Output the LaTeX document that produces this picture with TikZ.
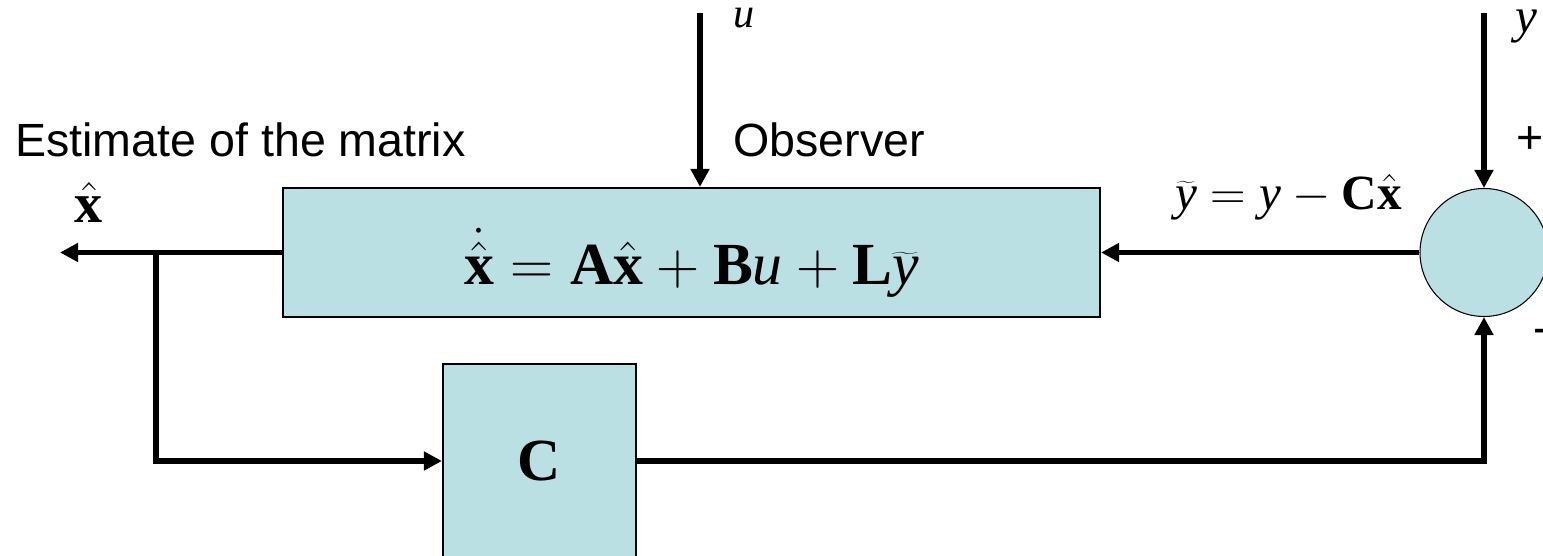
\RequirePackage{fix-cm}
\documentclass[tikz,border=0pt]{standalone}
\usepackage{fontspec}
\setmainfont{Liberation Sans}
\newfontfamily\tms{Liberation Serif}
\usetikzlibrary{arrows.meta}
\definecolor{obsfill}{RGB}{187,224,227}
% bold vectors / matrices and italic scalars in Times
\newcommand{\bfx}{\mbox{\tms\bfseries x}}
\newcommand{\bfA}{\mbox{\tms\bfseries A}}
\newcommand{\bfB}{\mbox{\tms\bfseries B}}
\newcommand{\bfC}{\mbox{\tms\bfseries C}}
\newcommand{\bfL}{\mbox{\tms\bfseries L}}
\newcommand{\itu}{\mbox{\tms\itshape u}}
\newcommand{\ity}{\mbox{\tms\itshape y}}

\begin{document}
\begin{tikzpicture}[>={Triangle[length=0.36cm,width=0.36cm]},
  sig/.style={line width=3.4pt},
  blockbox/.style={draw,line width=1.2pt,fill=obsfill,inner sep=0pt},
  sumcirc/.style={draw,circle,line width=0.6pt,fill=obsfill,minimum size=2.56cm,inner sep=0pt},
  txt/.style={font=\fontsize{26.5}{30}\selectfont,inner sep=0pt},
  mth/.style={font=\fontsize{28}{32}\selectfont,inner sep=0pt}]
\useasboundingbox (0,0) rectangle (30.86,11.12);
\clip (0,0) rectangle (30.86,11.12);
% ---------- blocks ----------
\node[blockbox,minimum width=16.34cm,minimum height=2.58cm,text height=1.64cm,text depth=0.34cm,
  font=\fontsize{34}{40}\selectfont] (obs) at (13.83,6.07)
  {$\dot{\hat{\bfx}} = \bfA\hat{\bfx} + \bfB\itu + \bfL\widetilde{\ity}$};
\node[blockbox,minimum width=3.86cm,minimum height=3.88cm,font=\fontsize{34}{40}\selectfont] (cblk) at (10.79,1.9) {$\bfC$};
\node[sumcirc] (sum) at (29.68,6.07) {};
% ---------- free ends ----------
\coordinate (uin) at (14.0,10.86);
\coordinate (yin) at (29.68,10.86);
\coordinate (xout) at (1.2,6.07);
\coordinate (split) at (3.12,6.07);
% ---------- signals ----------
\draw[sig,->] (uin) -- (uin |- obs.north);
\draw[sig,->] (yin) -- (sum.north);
\draw[sig,->] (sum.west) -- (obs.east);
\draw[sig,->] (obs.west) -- (xout);
\draw[sig,->] (split) |- (cblk.west);
\draw[sig,->] (cblk.east) -| (sum.south);
% ---------- labels ----------
\node[txt,anchor=base west] (esttxt) at (0.3,7.98) {Estimate of the matrix};
\node[txt,anchor=base west] (obstxt) at (14.66,7.98) {Observer};
\node[txt] (plus) at (30.6,8.32) {+};
\node[txt,anchor=west] (minus) at (30.66,4.4) {-};
\node[inner sep=0pt,anchor=base,font=\fontsize{32}{36}\selectfont] (xhat) at (1.78,6.66) {$\hat{\bfx}$};
\node[inner sep=0pt,anchor=base west,font=\fontsize{24}{28}\selectfont] (ulab) at (14.66,10.56) {$\itu$};
\node[mth,anchor=base west] (ylab) at (30.3,10.46) {$\ity$};
\node[mth,anchor=base west] (ytlab) at (23.5,6.92) {$\widetilde{\ity} = \ity - \bfC\hat{\bfx}$};
\end{tikzpicture}
\end{document}
